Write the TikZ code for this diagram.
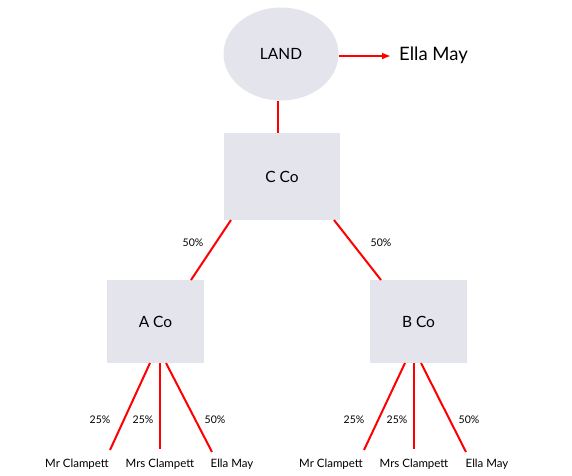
\documentclass[tikz,border=0pt]{standalone}
\usepackage{fontspec}
\setmainfont{Lato}
\usetikzlibrary{arrows.meta,shapes.geometric}
\definecolor{boxfill}{HTML}{E4E5EC}
\begin{document}
\begin{tikzpicture}[x=1pt,y=-1pt,
  ent/.style={fill=boxfill,draw=none,font=\fontsize{15.5}{18}\selectfont},
  boxent/.style={ent,rectangle,inner sep=0pt},
  link/.style={red,line width=2pt},
  pct/.style={font=\fontsize{10.5}{12}\selectfont,inner sep=0pt},
  ownername/.style={font=\fontsize{11.5}{13}\selectfont,inner sep=0pt}]
\useasboundingbox (0,0) rectangle (572,475);
\node[ent,ellipse,minimum width=115,minimum height=93,inner sep=0pt] (land) at (281,54) {LAND};
\node[font=\fontsize{18.5}{21}\selectfont,anchor=west,inner sep=0pt] (ella) at (399,55) {Ella May};
\coordinate (arrowend) at (391,56);
\draw[link,-{Latex[length=9pt,width=7pt]}] (land.east |- arrowend) -- (arrowend);
\node[boxent,minimum width=116,minimum height=87] (cco) at (282,176.5) {C Co};
\node[boxent,minimum width=97,minimum height=83] (aco) at (155.5,321.5) {A Co};
\node[boxent,minimum width=97,minimum height=83] (bco) at (418.5,321.5) {B Co};
\draw[link] (land.south -| 278,0) -- (cco.north -| 278,0);
\coordinate (c1) at (231,220);\coordinate (a1) at (191,280);
\coordinate (c2) at (334,220);\coordinate (b1) at (381,280);
\draw[link] (c1) -- (a1);
\draw[link] (c2) -- (b1);
\node[pct] (p1) at (193,243) {50\%};
\node[pct] (p2) at (381,243) {50\%};
% A Co owners
\coordinate (as1) at (150,363);\coordinate (ae1) at (110,450);
\coordinate (as2) at (160,363);\coordinate (ae2) at (160,449);
\coordinate (as3) at (166,363);\coordinate (ae3) at (212,452);
\draw[link] (as1) -- (ae1);
\draw[link] (as2) -- (ae2);
\draw[link] (as3) -- (ae3);
\node[pct] (ap1) at (100,420) {25\%};
\node[pct] (ap2) at (143,420) {25\%};
\node[pct] (ap3) at (215,420) {50\%};
\node[ownername] (an1) at (77,464) {Mr Clampett};
\node[ownername] (an2) at (160,464) {Mrs Clampett};
\node[ownername] (an3) at (232,464) {Ella May};
% B Co owners
\coordinate (bs1) at (405,363);\coordinate (be1) at (364,450);
\coordinate (bs2) at (414,363);\coordinate (be2) at (414,449);
\coordinate (bs3) at (421,363);\coordinate (be3) at (466,452);
\draw[link] (bs1) -- (be1);
\draw[link] (bs2) -- (be2);
\draw[link] (bs3) -- (be3);
\node[pct] (bp1) at (354,420) {25\%};
\node[pct] (bp2) at (397,420) {25\%};
\node[pct] (bp3) at (469,420) {50\%};
\node[ownername] (bn1) at (331,464) {Mr Clampett};
\node[ownername] (bn2) at (414,464) {Mrs Clampett};
\node[ownername] (bn3) at (487,464) {Ella May};
\end{tikzpicture}
\end{document}
